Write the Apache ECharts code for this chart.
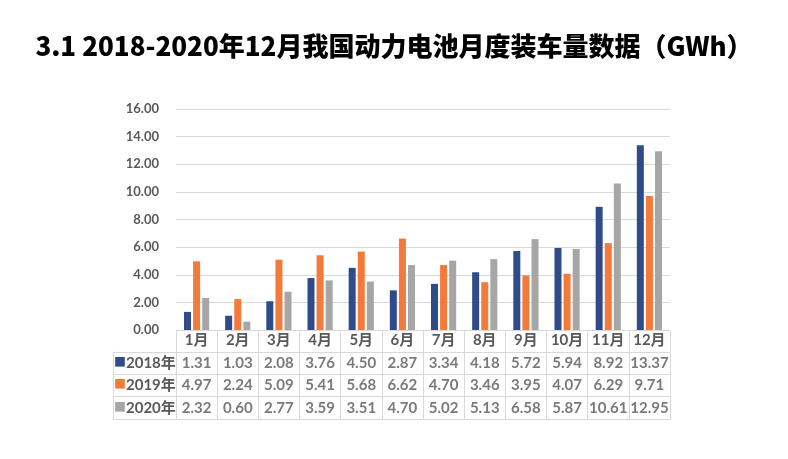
<!DOCTYPE html>
<html><head><meta charset="utf-8">
<script src="https://cdn.jsdelivr.net/npm/echarts@6/dist/echarts.min.js"></script>
<style>html,body{margin:0;padding:0;background:#fff}#c{width:788px;height:459px}</style>
</head><body><div id="c"></div>
<script>
const months = ['1月','2月','3月','4月','5月','6月','7月','8月','9月','10月','11月','12月'];
const seriesNames = ['2018年','2019年','2020年'];
const v2018 = [1.31,1.03,2.08,3.76,4.50,2.87,3.34,4.18,5.72,5.94,8.92,13.37];
const v2019 = [4.97,2.24,5.09,5.41,5.68,6.62,4.70,3.46,3.95,4.07,6.29,9.71];
const v2020 = [2.32,0.60,2.77,3.59,3.51,4.70,5.02,5.13,6.58,5.87,10.61,12.95];
const yTicks = [0,2,4,6,8,10,12,14,16];

const values = [v2018, v2019, v2020];
const colors = ['#2F4B8A','#F47A3C','#A6A6A6'];
const grey = '#595959';
const lineC = '#D9D9D9';
const font = 'Lato, "Noto Sans CJK SC", sans-serif';

const cells = [];
values.forEach((arr, r) => arr.forEach((v, i) => cells.push([i, r, v.toFixed(2)])));

const chart = echarts.init(document.getElementById('c'));
chart.setOption({
  animation: false,
  title: {
    text: '3.1 2018-2020年12月我国动力电池月度装车量数据（GWh）',
    left: 'center', top: 28,
    textStyle: {fontFamily: '"Noto Sans CJK SC"', fontWeight: 900, fontSize: 26, color: '#000'}
  },
  grid: [
    {left: 176, right: 118, top: 109, bottom: 129},
    {left: 176, right: 118, top: 352, bottom: 40}
  ],
  xAxis: [
    {type: 'category', gridIndex: 0, data: months,
     axisLine: {lineStyle: {color: lineC}}, axisTick: {show: false}, axisLabel: {show: false}},
    {type: 'category', gridIndex: 1, data: months, position: 'top',
     axisLine: {show: true, lineStyle: {color: lineC}},
     axisTick: {show: true, interval: 0, length: 21, lineStyle: {color: lineC}},
     axisLabel: {interval: 0, margin: 4, color: grey, fontSize: 15, fontWeight: 'bold', fontFamily: font},
     splitLine: {show: true, interval: 0, lineStyle: {color: lineC}}}
  ],
  yAxis: [
    {type: 'value', gridIndex: 0, min: yTicks[0], max: yTicks[yTicks.length-1], interval: 2,
     axisLine: {show: false}, axisTick: {show: false},
     axisLabel: {margin: 17, color: grey, fontSize: 13, fontWeight: 'bold', fontFamily: font,
                 formatter: v => v.toFixed(2)},
     splitLine: {lineStyle: {color: lineC}}},
    {type: 'category', gridIndex: 1, data: seriesNames, inverse: true, offset: 63,
     axisLine: {show: true, lineStyle: {color: lineC}},
     axisTick: {show: true, inside: true, length: 63, lineStyle: {color: lineC}},
     axisLabel: {inside: true, margin: 1,
       formatter: (v, i) => `{s${i}|■}{t|${v}}`,
       rich: {
         s0: {color: colors[0], fontSize: 12, fontFamily: font},
         s1: {color: colors[1], fontSize: 12, fontFamily: font},
         s2: {color: colors[2], fontSize: 12, fontFamily: font},
         t: {color: grey, fontSize: 15, fontWeight: 'bold', fontFamily: font}
       }},
     splitLine: {show: true, lineStyle: {color: lineC}}}
  ],
  series: [
    ...seriesNames.map((n, k) => ({
      name: n, type: 'bar', xAxisIndex: 0, yAxisIndex: 0, data: values[k],
      barWidth: 7, barGap: '30%', itemStyle: {color: colors[k]}
    })),
    {type: 'scatter', xAxisIndex: 1, yAxisIndex: 1, data: cells, symbolSize: 1,
     itemStyle: {color: 'rgba(0,0,0,0)'},
     label: {show: true, position: 'inside', formatter: p => p.value[2],
             color: grey, fontSize: 15, fontWeight: 'bold', fontFamily: font}}
  ]
});
</script></body></html>
